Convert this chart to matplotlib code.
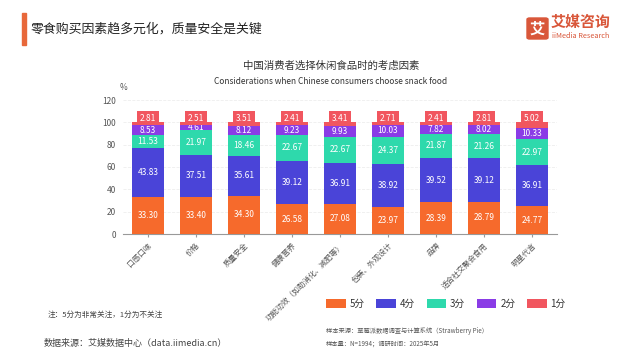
import numpy as np
import matplotlib
matplotlib.use("Agg")
import matplotlib.pyplot as plt
from matplotlib.patches import Rectangle, FancyBboxPatch

plt.rcParams["font.family"] = ["Noto Sans CJK SC", "DejaVu Sans"]

# %% data
categories = [
    "口感口味", "价格", "质量安全", "健康营养", "功能功效（如助消化、减肥等）",
    "包装、外观设计", "品牌", "适合社交聚会食用", "明星代言",
]
score_labels = ["5分", "4分", "3分", "2分", "1分"]
score5 = [33.30, 33.40, 34.30, 26.58, 27.08, 23.97, 28.39, 28.79, 24.77]
score4 = [43.83, 37.51, 35.61, 39.12, 36.91, 38.92, 39.52, 39.12, 36.91]
score3 = [11.53, 21.97, 18.46, 22.67, 22.67, 24.37, 21.87, 21.26, 22.97]
score2 = [8.53, 4.61, 8.12, 9.23, 9.93, 10.03, 7.82, 8.02, 10.33]
score1 = [2.81, 2.51, 3.51, 2.41, 3.41, 2.71, 2.41, 2.81, 5.02]
colors = ["#F66A2C", "#4A44D8", "#2ED9AC", "#8A3CE6", "#F1565F"]

# %% figure
fig = plt.figure(figsize=(6.4, 3.6), dpi=100)
fig.patch.set_facecolor("white")

# header
fig.patches.append(Rectangle((22 / 640, 1 - 45 / 360), 4 / 640, 32 / 360,
                             transform=fig.transFigure, color="#E8683A"))
fig.text(31 / 640, 1 - 29 / 360, "零食购买因素趋多元化，质量安全是关键",
         fontsize=9.3, va="center", ha="left", color="#222222")

# logo
fig.patches.append(FancyBboxPatch((527 / 640, 1 - 39 / 360), 21 / 640, 21 / 360,
                                  boxstyle="round,pad=0,rounding_size=0.004",
                                  transform=fig.transFigure, color="#D9573A"))
fig.text(537.5 / 640, 1 - 28.5 / 360, "艾", fontsize=11, color="white",
         ha="center", va="center", fontweight="bold")
fig.text(551 / 640, 1 - 22 / 360, "艾媒咨询", fontsize=10.8, color="#D9573A",
         ha="left", va="center", fontweight="bold")
fig.text(552 / 640, 1 - 35.5 / 360, "iiMedia Research", fontsize=5.3, color="#D9573A",
         ha="left", va="center")

# chart titles
fig.text(331 / 640, 1 - 66 / 360, "中国消费者选择休闲食品时的考虑因素",
         fontsize=7.5, ha="center", va="center", color="#333333")
fig.text(331 / 640, 1 - 82 / 360, "Considerations when Chinese consumers choose snack food",
         fontsize=6, ha="center", va="center", color="#333333")

# %% bars
ax = fig.add_axes([123 / 640, 1 - 234 / 360, 434 / 640, 134 / 360])
x = np.arange(len(categories))
series = [score5, score4, score3, score2, score1]
bottom = np.zeros(len(categories))
handles = []
for i, (vals, col, lab) in enumerate(zip(series, colors, score_labels)):
    vals = np.array(vals)
    b = ax.bar(x, vals, width=0.66, bottom=bottom, color=col, label=lab, zorder=3)
    handles.append(b)
    for xi, v, bt in zip(x, vals, bottom):
        if i == len(series) - 1:
            # thin top segment: label sits on a cap above the bar
            ax.text(xi, bt + v + 3.6, f"{v:.2f}", ha="center", va="center",
                    fontsize=6, color="white", zorder=4,
                    bbox=dict(boxstyle="square,pad=0.3", fc=col, ec="none"))
        else:
            ax.text(xi, bt + v / 2, f"{v:.2f}", ha="center", va="center",
                    fontsize=6, color="white", zorder=4)
    bottom += vals

ax.set_xlim(-0.52, len(categories) - 0.48)
ax.set_ylim(0, 120)
ax.set_yticks(range(0, 121, 20))
ax.tick_params(axis="y", length=0, labelsize=6, labelcolor="#555555", pad=5)
ax.tick_params(axis="x", length=2, color="#999999")
ax.set_xticks(x)
ax.set_xticklabels(categories, rotation=45, ha="right", rotation_mode="anchor",
                   fontsize=5.5, color="#555555")
ax.grid(axis="y", color="#EEEEEE", linewidth=0.6, linestyle="--", zorder=0)
for s in ["top", "right", "left"]:
    ax.spines[s].set_visible(False)
ax.spines["bottom"].set_color("#999999")
ax.spines["bottom"].set_linewidth(0.8)
fig.text(124 / 640, 1 - 87 / 360, "%", fontsize=6, color="#555555",
         ha="center", va="center")

# legend
fig.legend(handles=handles, labels=score_labels, loc="center",
           bbox_to_anchor=(446 / 640, 1 - 304 / 360), ncol=5, frameon=False,
           fontsize=7, handlelength=2.0, handleheight=1.0, columnspacing=1.2,
           handletextpad=0.4, labelcolor="#333333")

# footnotes
fig.text(48 / 640, 1 - 315 / 360, "注：5分为非常关注，1分为不关注",
         fontsize=5.5, color="#444444", ha="left", va="center")
fig.text(44 / 640, 1 - 343 / 360, "数据来源：艾媒数据中心（data.iimedia.cn）",
         fontsize=6.5, color="#444444", ha="left", va="center")
fig.text(326 / 640, 1 - 331 / 360, "样本来源：草莓派数据调查与计算系统（Strawberry Pie）",
         fontsize=4.5, color="#555555", ha="left", va="center")
fig.text(326 / 640, 1 - 344 / 360, "样本量：N=1994；调研时间：2025年5月",
         fontsize=4.5, color="#555555", ha="left", va="center")

fig.savefig("out.png", dpi=100, facecolor="white")
